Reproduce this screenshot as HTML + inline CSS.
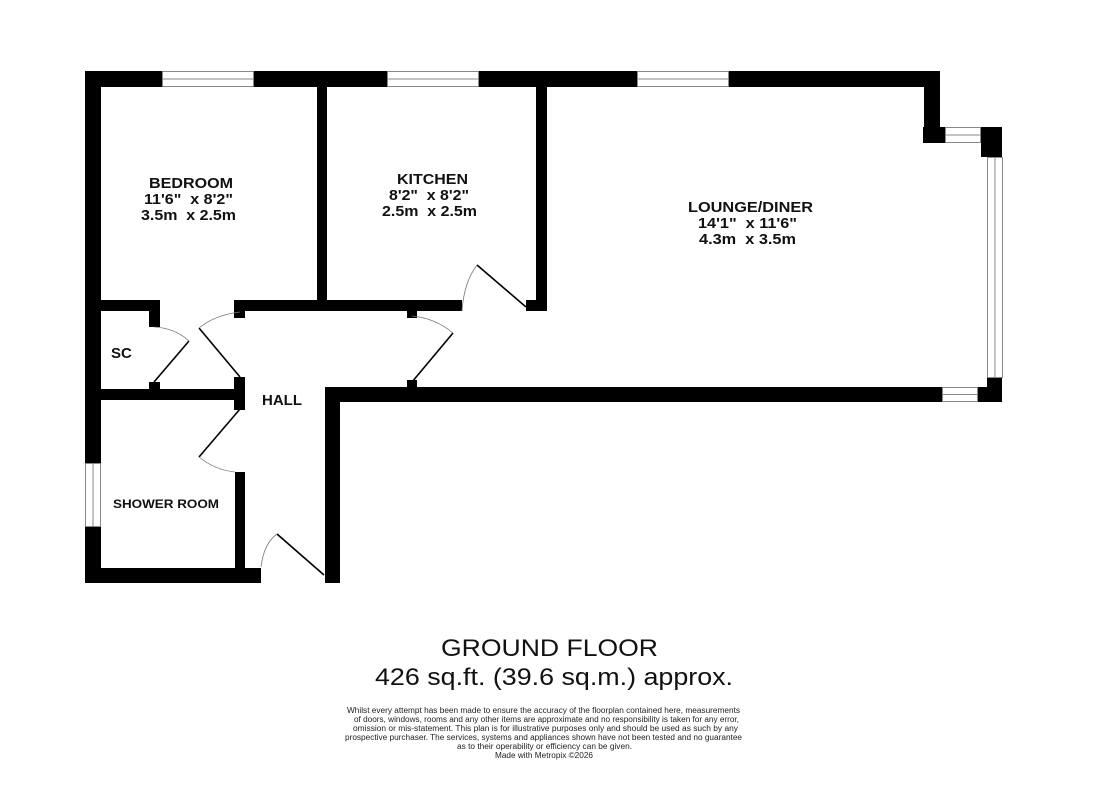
<!DOCTYPE html>
<html><head><meta charset="utf-8"><style>
html,body{margin:0;padding:0;background:#fff;}
svg{display:block;}
text{font-family:"Liberation Sans",Arial,sans-serif;white-space:pre;}
</style></head><body>
<svg width="1102" height="800" viewBox="0 0 1102 800" xmlns="http://www.w3.org/2000/svg">
<g fill="#000">
<rect x="85" y="71" width="855" height="16"/>
<rect x="85" y="71" width="16" height="512"/>
<rect x="317" y="87" width="10" height="215"/>
<rect x="536" y="87" width="11" height="224"/>
<rect x="526" y="300" width="21" height="11"/>
<rect x="101" y="300" width="59" height="11"/>
<rect x="149" y="300" width="11" height="27"/>
<rect x="234" y="300" width="228" height="11"/>
<rect x="234" y="311" width="11" height="7"/>
<rect x="407" y="311" width="10" height="7"/>
<rect x="101" y="389" width="143" height="11"/>
<rect x="149" y="382" width="11" height="8"/>
<rect x="234" y="377" width="11" height="33"/>
<rect x="235" y="472" width="10" height="111"/>
<rect x="85" y="568" width="176" height="15"/>
<rect x="325" y="387" width="15" height="196"/>
<rect x="325" y="387" width="617" height="15"/>
<rect x="407" y="380" width="10" height="8"/>
<rect x="924" y="71" width="16" height="72"/>
<rect x="923" y="127" width="22" height="16"/>
<rect x="981" y="127" width="21" height="30"/>
<rect x="987" y="378" width="15" height="24"/>
<rect x="978" y="387" width="24" height="15"/>
</g>
<g fill="#fff" stroke="#888" stroke-width="1">
<rect x="162.5" y="71.5" width="91" height="15"/><line x1="162" y1="79" x2="254" y2="79"/>
<rect x="387.5" y="71.5" width="91" height="15"/><line x1="387" y1="79" x2="479" y2="79"/>
<rect x="637.5" y="71.5" width="91" height="15"/><line x1="637" y1="79" x2="729" y2="79"/>
<rect x="945.5" y="127.5" width="35" height="15"/><line x1="945" y1="135" x2="981" y2="135"/>
<rect x="987.5" y="157.5" width="15" height="220"/><line x1="995" y1="157" x2="995" y2="378"/>
<rect x="942.5" y="387.5" width="35" height="14"/><line x1="942" y1="394.5" x2="978" y2="394.5"/>
<rect x="85.5" y="463.5" width="15" height="63"/><line x1="93" y1="463" x2="93" y2="527"/>
</g>
<g fill="none" stroke="#000" stroke-width="1.6">
<line x1="277" y1="534" x2="324" y2="575"/>
<line x1="240" y1="409" x2="199" y2="457"/>
<line x1="154" y1="382" x2="189" y2="341"/>
<line x1="240" y1="377" x2="199" y2="328"/>
<line x1="412" y1="382" x2="453" y2="333"/>
<line x1="477" y1="265" x2="526" y2="307"/>
</g>
<g fill="none" stroke="#777" stroke-width="0.8">
<path d="M261 567 Q264 543 277 534"/>
<path d="M199 457 Q215 470 235 472"/>
<path d="M189 341 Q175 328 154 327"/>
<path d="M199 328 Q215 315 240 312"/>
<path d="M453 333 Q435 318 412 316"/>
<path d="M462 311 Q464 282 477 265"/>
</g>
<g font-weight="bold" font-size="14.5" fill="#111">
<text x="149" y="188" textLength="84" lengthAdjust="spacingAndGlyphs">BEDROOM</text>
<text x="144" y="204" textLength="89" lengthAdjust="spacingAndGlyphs">11'6"&#160;&#160;x 8'2"</text>
<text x="141" y="220" textLength="95" lengthAdjust="spacingAndGlyphs">3.5m&#160;&#160;x 2.5m</text>
<text x="397" y="184" textLength="71" lengthAdjust="spacingAndGlyphs">KITCHEN</text>
<text x="389" y="200" textLength="80" lengthAdjust="spacingAndGlyphs">8'2"&#160;&#160;x 8'2"</text>
<text x="382" y="216" textLength="95" lengthAdjust="spacingAndGlyphs">2.5m&#160;&#160;x 2.5m</text>
<text x="688" y="212" textLength="125" lengthAdjust="spacingAndGlyphs">LOUNGE/DINER</text>
<text x="698" y="228" textLength="99" lengthAdjust="spacingAndGlyphs">14'1"&#160;&#160;x 11'6"</text>
<text x="699" y="244" textLength="97" lengthAdjust="spacingAndGlyphs">4.3m&#160;&#160;x 3.5m</text>
<text x="111" y="358" font-size="15">SC</text>
<text x="262" y="405" font-size="15">HALL</text>
<text x="113" y="508" font-size="12" textLength="106" lengthAdjust="spacingAndGlyphs">SHOWER ROOM</text>
</g>
<g fill="#111">
<text x="441" y="656" font-size="24" textLength="217" lengthAdjust="spacingAndGlyphs">GROUND FLOOR</text>
<text x="375" y="685" font-size="24" textLength="358" lengthAdjust="spacingAndGlyphs">426 sq.ft. (39.6 sq.m.) approx.</text>
</g>
<g font-size="8" fill="#222">
<text x="347" y="713" textLength="393" lengthAdjust="spacingAndGlyphs">Whilst every attempt has been made to ensure the accuracy of the floorplan contained here, measurements</text>
<text x="354" y="722" textLength="385" lengthAdjust="spacingAndGlyphs">of doors, windows, rooms and any other items are approximate and no responsibility is taken for any error,</text>
<text x="353" y="731" textLength="385" lengthAdjust="spacingAndGlyphs">omission or mis-statement. This plan is for illustrative purposes only and should be used as such by any</text>
<text x="345" y="740" textLength="397" lengthAdjust="spacingAndGlyphs">prospective purchaser. The services, systems and appliances shown have not been tested and no guarantee</text>
<text x="457" y="749" textLength="175" lengthAdjust="spacingAndGlyphs">as to their operability or efficiency can be given.</text>
<text x="495" y="758" textLength="98" lengthAdjust="spacingAndGlyphs">Made with Metropix ©2026</text>
</g>
</svg>
</body></html>
